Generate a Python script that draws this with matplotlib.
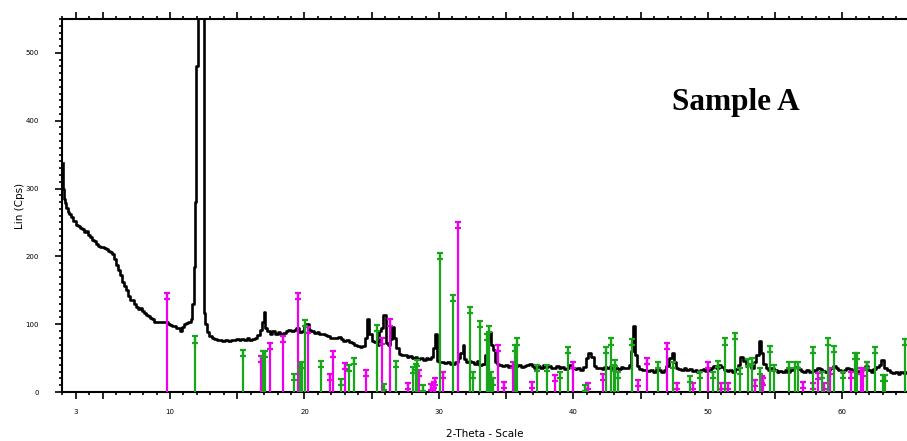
import matplotlib.pyplot as plt
from matplotlib.ticker import MultipleLocator

# measured pattern (2-theta, counts)
two_theta = [
    2.05, 2.10, 2.15, 2.25, 2.35, 2.45, 2.6, 2.75, 2.9, 3.05, 3.2, 3.35, 3.5, 3.65, 3.8, 3.95,
    4.1, 4.25, 4.4, 4.55, 4.7, 4.85, 5.0, 5.15, 5.3, 5.45, 5.6, 5.75, 5.9, 6.05, 6.2, 6.35,
    6.5, 6.65, 6.8, 6.95, 7.1, 7.25, 7.4, 7.55, 7.7, 7.85, 8.0, 8.15, 8.3, 8.45, 8.6, 8.75,
    8.9, 9.05, 9.2, 9.35, 9.5, 9.65, 9.8, 9.95, 10.1, 10.25, 10.4, 10.55, 10.7, 10.85, 11.0,
    11.15, 11.3, 11.45, 11.6, 11.7, 11.8, 11.9, 12.0, 12.1, 12.2, 12.3, 12.45, 12.52, 12.58,
    12.7, 12.85, 13.0, 13.2, 13.4, 13.6, 13.8, 14.0, 14.2, 14.4, 14.6, 14.8, 15.0, 15.2, 15.4,
    15.6, 15.8, 16.0, 16.2, 16.4, 16.6, 16.8, 16.95, 17.05, 17.15, 17.3, 17.5, 17.7, 17.9,
    18.1, 18.3, 18.5, 18.7, 18.9, 19.1, 19.3, 19.5, 19.7, 19.9, 20.05, 20.2, 20.4, 20.6, 20.8,
    21.0, 21.2, 21.4, 21.6, 21.8, 22.0, 22.2, 22.4, 22.6, 22.8, 23.0, 23.2, 23.4, 23.6, 23.8,
    24.0, 24.2, 24.4, 24.6, 24.75, 24.9, 25.1, 25.3, 25.5, 25.65, 25.8, 25.95, 26.1, 26.25,
    26.4, 26.55, 26.7, 26.9, 27.1, 27.3, 27.5, 27.7, 27.9, 28.1, 28.3, 28.5, 28.7, 28.9, 29.1,
    29.3, 29.5, 29.65, 29.8, 29.95, 30.1, 30.3, 30.5, 30.7, 30.9, 31.1, 31.3, 31.5, 31.7, 31.8,
    31.95, 32.1, 32.3, 32.5, 32.7, 32.9, 33.1, 33.3, 33.5, 33.65, 33.8, 33.95, 34.1, 34.25,
    34.4, 34.6, 34.8, 35.0, 35.2, 35.4, 35.6, 35.8, 36.0, 36.2, 36.4, 36.6, 36.8, 37.0, 37.2,
    37.4, 37.6, 37.8, 38.0, 38.2, 38.4, 38.6, 38.8, 39.0, 39.2, 39.4, 39.6, 39.8, 40.0, 40.2,
    40.4, 40.6, 40.8, 41.0, 41.2, 41.4, 41.6, 41.8, 42.0, 42.2, 42.4, 42.6, 42.8, 43.0, 43.2,
    43.4, 43.6, 43.8, 44.0, 44.2, 44.4, 44.5, 44.6, 44.8, 45.0, 45.2, 45.4, 45.6, 45.8, 46.0,
    46.2, 46.4, 46.6, 46.8, 47.0, 47.2, 47.4, 47.55, 47.7, 47.9, 48.1, 48.3, 48.5, 48.7, 48.9,
    49.1, 49.3, 49.5, 49.7, 49.9, 50.1, 50.3, 50.5, 50.7, 50.9, 51.1, 51.3, 51.5, 51.7, 51.9,
    52.1, 52.3, 52.5, 52.7, 52.9, 53.1, 53.3, 53.5, 53.7, 53.9, 54.05, 54.2, 54.4, 54.6, 54.8,
    55.0, 55.2, 55.4, 55.6, 55.8, 56.0, 56.2, 56.4, 56.6, 56.8, 57.0, 57.2, 57.4, 57.6, 57.8,
    58.0, 58.2, 58.4, 58.6, 58.8, 59.0, 59.2, 59.4, 59.6, 59.8, 60.0, 60.2, 60.4, 60.6, 60.8,
    61.0, 61.2, 61.4, 61.6, 61.8, 62.0, 62.2, 62.4, 62.6, 62.8, 63.0, 63.2, 63.4, 63.6, 63.8,
    64.0, 64.2, 64.4, 64.6, 64.8,
]
counts = [
    338, 300, 285, 278, 272, 265, 262, 258, 252, 246, 245, 242, 240, 236, 238, 232,
    228, 224, 222, 218, 216, 214, 214, 212, 211, 208, 206, 203, 196, 188, 180, 172,
    162, 156, 150, 142, 136, 135, 130, 126, 122, 124, 120, 116, 114, 112, 109, 108,
    104, 104, 103, 104, 104, 103, 103, 100, 99, 98, 97, 95, 94, 90, 96,
    101, 102, 104, 108, 130, 185, 280, 480, 700, 1000, 1000, 900, 600, 116,
    100, 88, 82, 79, 78, 76, 77, 75, 76, 75, 77, 76, 78, 76, 78,
    77, 79, 77, 78, 79, 84, 92, 103, 118, 95, 90, 86, 90, 86,
    88, 86, 87, 90, 92, 90, 91, 94, 88, 90, 98, 100, 92, 90, 87,
    88, 86, 85, 84, 83, 80, 80, 79, 81, 78, 75, 77, 74, 72, 70,
    68, 66, 68, 80, 108, 85, 75, 74, 70, 90, 95, 114, 72, 70,
    78, 96, 80, 65, 56, 55, 54, 52, 53, 50, 52, 48, 50, 47, 50,
    48, 52, 65, 85, 46, 44, 45, 43, 44, 42, 41, 44, 50, 58, 70,
    48, 45, 46, 44, 42, 46, 40, 42, 55, 75, 88, 70, 62, 45,
    42, 40, 38, 40, 37, 39, 36, 38, 40, 37, 39, 40, 42, 38, 36,
    38, 36, 40, 37, 38, 35, 36, 38, 35, 37, 34, 36, 40, 36, 34,
    36, 33, 37, 50, 58, 52, 38, 35, 36, 34, 37, 35, 38, 34, 36,
    34, 37, 35, 36, 40, 60, 98, 55, 38, 34, 32, 33, 31, 33, 30,
    34, 32, 30, 32, 38, 50, 58, 45, 36, 34, 33, 35, 32, 34, 31,
    33, 30, 32, 34, 31, 33, 35, 38, 36, 40, 37, 33, 31, 33, 30,
    34, 40, 52, 46, 38, 40, 36, 45, 55, 75, 58, 42, 36, 33, 35,
    32, 30, 31, 29, 32, 30, 33, 35, 37, 34, 31, 30, 32, 29, 31,
    33, 36, 34, 31, 30, 33, 35, 38, 36, 33, 30, 33, 36, 34, 31,
    33, 30, 32, 35, 38, 33, 30, 34, 37, 40, 47, 36, 32, 30, 28,
    30, 27, 29, 28, 30,
]

# reference phase 1 (magenta sticks)
pink_pos = [9.75, 16.74, 17.43, 18.38, 19.52, 20.25, 21.9, 22.15, 23.0, 24.57, 25.76,
            26.33, 27.7, 28.54, 29.4, 29.6, 29.7, 30.27, 31.43, 34.4, 34.8, 35.5, 36.9,
            38.6, 39.98, 41.1, 42.2, 44.8, 45.45, 46.93, 47.67, 48.9, 50.0, 51.0, 51.5,
            53.5, 54.0, 54.1, 57.1, 57.8, 58.2, 58.6, 59.1, 60.6, 61.4, 61.55, 61.8]
pink_int = [146, 53, 72, 83, 146, 96, 27, 60, 43, 33, 80,
            107, 13, 33, 12, 15, 20, 30, 251, 70, 15, 45, 15,
            25, 45, 13, 27, 18, 50, 72, 13, 13, 45, 13, 13,
            18, 23, 20, 15, 13, 28, 13, 35, 30, 35, 32, 45]

# reference phase 2 (green sticks)
green_pos = [11.86, 15.45, 16.89, 17.06, 19.22, 19.67, 19.8, 20.06, 21.2, 22.7, 23.3,
             23.7, 25.37, 25.93, 26.78, 28.04, 28.3, 28.4, 28.8, 30.1, 31.07, 32.3,
             32.5, 33.05, 33.6, 33.7, 33.9, 34.0, 35.65, 35.8, 37.3, 38.0, 39.0, 39.6,
             40.86, 42.4, 42.8, 43.0, 43.1, 43.3, 44.35, 46.3, 47.4, 48.66, 49.4, 50.4,
             50.76, 51.3, 52.0, 52.4, 53.0, 53.25, 53.9, 54.6, 54.9, 56.0, 56.5, 56.7,
             57.8, 58.45, 58.95, 59.4, 60.05, 60.9, 61.1, 61.8, 62.4, 63.0, 63.2, 64.66]
green_int = [82, 62, 60, 60, 27, 42, 44, 106, 46, 19, 40,
             50, 99, 12, 46, 37, 42, 47, 10, 205, 143, 125,
             30, 105, 86, 97, 30, 20, 69, 79, 40, 40, 30, 67,
             10, 67, 79, 40, 47, 30, 78, 45, 45, 24, 30, 30,
             46, 79, 87, 35, 48, 50, 35, 68, 40, 45, 45, 45,
             67, 30, 79, 68, 30, 58, 58, 45, 67, 25, 25, 78]

x_ticks = [3, 5, 10, 15, 20, 25, 30, 35, 40, 45, 50, 55, 60]
x_labels = ['3', '', '10', '', '20', '', '30', '', '40', '', '50', '', '60']
y_ticks = [0, 100, 200, 300, 400, 500]


def draw_sticks(ax, pos, heights, color):
    ax.vlines(pos, 0, heights, colors=color, linewidth=1.6, zorder=3)
    # small "I" cap at the top of each stick
    centers = [h - 4.5 for h in heights]
    ax.errorbar(pos, centers, yerr=4.5, fmt='none', ecolor=color,
                elinewidth=1.6, capsize=2.0, capthick=1.6, zorder=3)


fig = plt.figure(figsize=(9.07, 4.41), dpi=100)
ax = fig.add_axes([0.0688, 0.111, 0.9312, 0.846])

ax.plot(two_theta, counts, color='black', linewidth=1.9,
        drawstyle='steps-mid', zorder=2)
draw_sticks(ax, pink_pos, pink_int, '#ee00ee')
draw_sticks(ax, green_pos, green_int, '#1aa61a')

ax.set_xlim(2, 64.8)
ax.set_ylim(0, 550)

ax.set_xticks(x_ticks)
ax.set_xticklabels(x_labels)
ax.xaxis.set_minor_locator(MultipleLocator(1))
ax.set_yticks(y_ticks)
ax.set_yticklabels([str(v) for v in y_ticks])
ax.yaxis.set_minor_locator(MultipleLocator(10))

ax.tick_params(axis='x', which='both', direction='out', top=True,
               labelsize=5, width=1.2, pad=7)
ax.tick_params(axis='x', which='major', length=5)
ax.tick_params(axis='x', which='minor', length=2.5)
ax.tick_params(axis='y', which='both', direction='out', labelsize=5,
               width=1.2, pad=12)
ax.tick_params(axis='y', which='major', length=5)
ax.tick_params(axis='y', which='minor', length=2.5)

ax.spines['right'].set_visible(False)
for side in ['left', 'top', 'bottom']:
    ax.spines[side].set_linewidth(1.5)

ax.set_xlabel('2-Theta - Scale', fontsize=7.5, labelpad=10)
ax.set_ylabel('Lin (Cps)', fontsize=7.5, labelpad=0)

ax.text(0.722, 0.775, 'Sample A', transform=ax.transAxes, va='center',
        fontsize=22.5, fontweight='bold', family='Liberation Serif')

fig.savefig('out.png', dpi=100)
